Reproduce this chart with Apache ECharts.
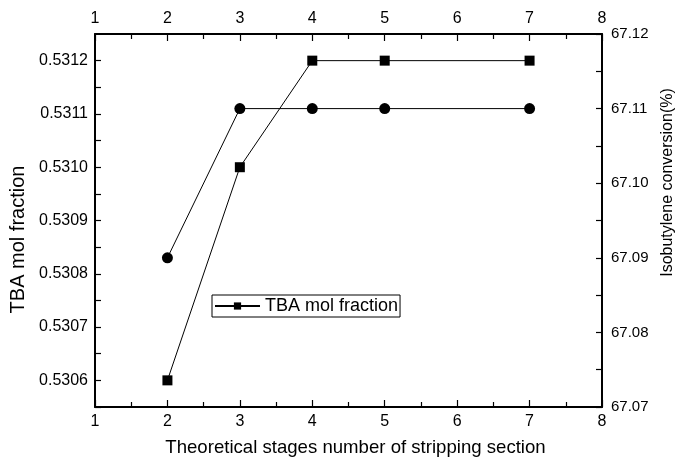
<!DOCTYPE html>
<html>
<head>
<meta charset="utf-8">
<script src="https://cdn.jsdelivr.net/npm/echarts@6/dist/echarts.min.js"></script>
<style>html,body{margin:0;padding:0;background:#fff}#c{width:675px;height:460px}</style>
</head>
<body>
<div id="c"></div>
<script>
const stages = [2, 3, 4, 5, 7];
const tbaMolFraction = [0.5306, 0.5310, 0.5312, 0.5312, 0.5312];
const isobutyleneConversion = [67.09, 67.11, 67.11, 67.11, 67.11];
const leftTicks = [0.5306, 0.5307, 0.5308, 0.5309, 0.5310, 0.5311, 0.5312];
const leftMinorTicks = [0.53055, 0.53065, 0.53075, 0.53085, 0.53095, 0.53105, 0.53115];
const rightTicks = [67.07, 67.08, 67.09, 67.10, 67.11, 67.12];
const rightMinorTicks = [67.075, 67.085, 67.095, 67.105, 67.115];

const FONT = 'Liberation Sans, Arial, sans-serif';
const lineStyle = { color: '#000', width: 2 };
const chart = echarts.init(document.getElementById('c'), null, { renderer: 'canvas' });
const xBase = {
  type: 'value', min: 1, max: 8, interval: 1,
  axisLine: { show: true, onZero: false, lineStyle },
  axisTick: { show: true, inside: true, length: 7, lineStyle: { color: '#000', width: 1.2 } },
  minorTick: { show: true, splitNumber: 2, length: 5, lineStyle: { color: '#000', width: 1.2 } },
  splitLine: { show: false },
  axisLabel: { color: '#000', fontFamily: FONT, fontSize: 16, margin: 7 }
};
chart.setOption({
  animation: false,
  grid: { left: 95, right: 73, top: 34, bottom: 53, outerBoundsMode: 'none', containLabel: false },
  legend: {
    data: ['TBA mol fraction'],
    left: 212, top: 295,
    itemWidth: 45, itemHeight: 9, itemGap: 4,
    padding: [2, 2, 2, 2],
    borderColor: '#000', borderWidth: 1, borderRadius: 0,
    textStyle: { color: '#000', fontFamily: FONT, fontSize: 18, lineHeight: 18, padding: [0, 0, 0, 0] }
  },
  xAxis: [
    Object.assign({}, xBase, {
      position: 'bottom',
      name: 'Theoretical stages number of stripping section',
      nameLocation: 'middle', nameGap: 31,
      nameTextStyle: { color: '#000', fontFamily: FONT, fontSize: 18.6, padding: [0, 0, 0, 14] }
    }),
    Object.assign({}, xBase, { position: 'top' })
  ],
  yAxis: [
    {
      type: 'value', min: 0.53055, max: 0.53125, position: 'left',
      name: 'TBA mol fraction', nameLocation: 'middle', nameGap: 64,
      nameTextStyle: { color: '#000', fontFamily: FONT, fontSize: 20, padding: [0, 38, 0, 0] },
      axisLine: { show: true, onZero: false, lineStyle },
      axisTick: { show: true, inside: true, length: 6, customValues: leftTicks.concat(leftMinorTicks), lineStyle: { color: '#000', width: 1.2 } },
      axisLabel: { color: '#000', fontFamily: FONT, fontSize: 16, margin: 7, customValues: leftTicks, formatter: v => v.toFixed(4) },
      splitLine: { show: false }
    },
    {
      type: 'value', min: 67.07, max: 67.12, position: 'right',
      name: 'Isobutylene conversion(%)', nameLocation: 'middle', nameGap: 55,
      nameRotate: 90,
      nameTextStyle: { color: '#000', fontFamily: FONT, fontSize: 16, padding: [0, 0, 0, 76] },
      axisLine: { show: true, onZero: false, lineStyle },
      axisTick: { show: true, inside: true, length: 6, customValues: rightTicks.concat(rightMinorTicks), lineStyle: { color: '#000', width: 1.2 } },
      axisLabel: { color: '#000', fontFamily: FONT, fontSize: 15, margin: 9, customValues: rightTicks, formatter: v => v.toFixed(2) },
      splitLine: { show: false }
    }
  ],
  series: [
    {
      name: 'TBA mol fraction', type: 'line', xAxisIndex: 0, yAxisIndex: 0,
      data: stages.map((s, i) => [s, tbaMolFraction[i]]),
      symbol: 'rect', symbolSize: 10,
      lineStyle: { color: '#000', width: 1 },
      itemStyle: { color: '#000' }
    },
    {
      name: 'Isobutylene conversion', type: 'line', xAxisIndex: 0, yAxisIndex: 1,
      data: stages.map((s, i) => [s, isobutyleneConversion[i]]),
      symbol: 'circle', symbolSize: 11,
      lineStyle: { color: '#000', width: 1 },
      itemStyle: { color: '#000' }
    }
  ]
});
</script>
</body>
</html>
